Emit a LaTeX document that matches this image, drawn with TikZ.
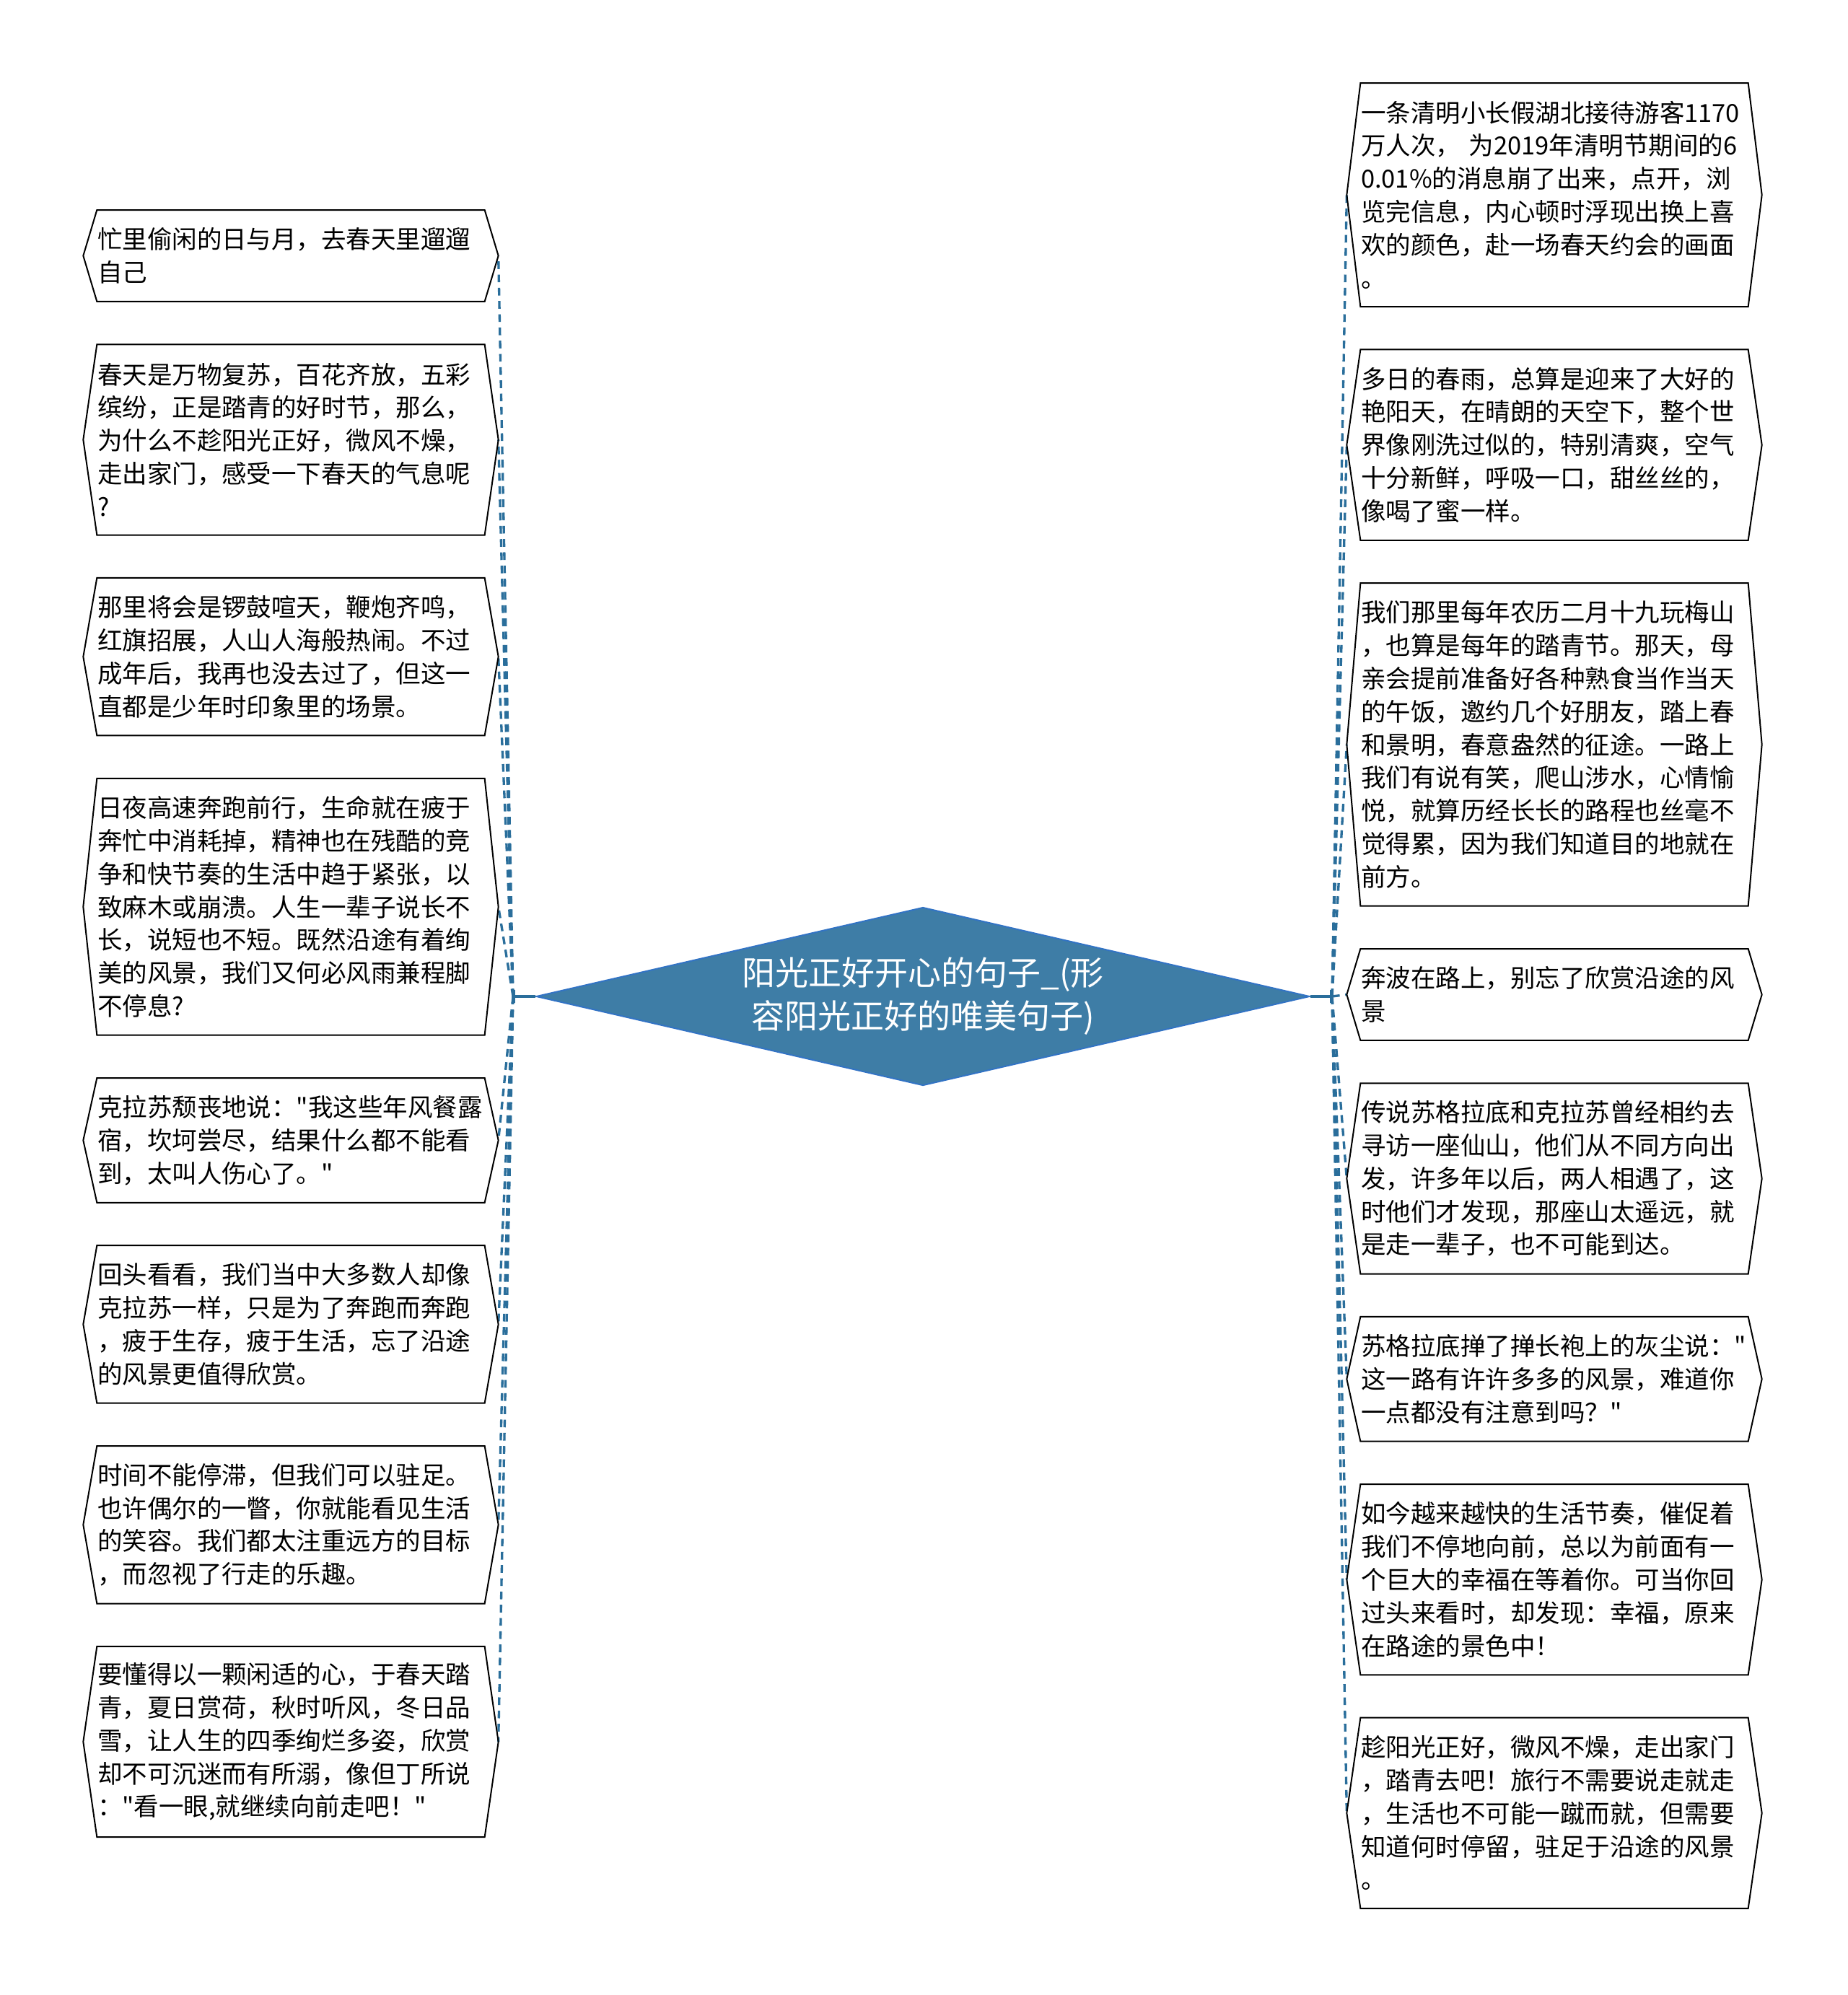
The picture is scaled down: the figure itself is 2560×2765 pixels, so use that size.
\documentclass[tikz,border=0pt]{standalone}
\usepackage{fontspec}
\newfontfamily\cjkfont{Noto Sans CJK SC}
\usepackage{tikz}
\usetikzlibrary{arrows.meta,shapes.geometric,positioning}
\definecolor{rootblue}{RGB}{62,125,166}
\definecolor{rootedge}{RGB}{50,115,196}
\definecolor{linkblue}{RGB}{42,110,155}
\tikzstyle{rootshape} = [diamond, aspect=4.3, minimum width=321.6pt, minimum height=74.1pt, inner sep=0pt, fill=rootblue, draw=rootedge, line width=0.6pt, text=white, align=center, font=\cjkfont\fontsize{13.8pt}{18pt}\selectfont]
\tikzset{leafbox/.style={text width=160.8pt, align=left, inner sep=0pt, minimum height=#1*13.74pt+10.2pt, font=\cjkfont\fontsize{10.35pt}{13.74pt}\selectfont}}
\tikzstyle{leafedge} = [draw=black, line width=0.6pt]
\tikzstyle{trunk} = [draw=linkblue, line width=1pt, -{Bar[width=5.4pt]}]
\tikzstyle{branch} = [draw=linkblue, line width=1pt, dash pattern=on 3.2pt off 2.3pt]

\begin{document}
\begin{tikzpicture}[x=0.3pt, y=-0.3pt, node distance=17.8pt]
\useasboundingbox (0,0) rectangle (2560,2765);

% Centre topic
\node[rootshape] (root) at (1279,1381) {阳光正好开心的句子\_(形\\容阳光正好的唯美句子)};

% Left column
\node[leafbox=2, anchor=north] (l1) at (403,291) {忙里偷闲的日与月，去春天里遛遛\\自己};
\node[leafbox=5, below=of l1] (l2) {春天是万物复苏，百花齐放，五彩\\缤纷，正是踏青的好时节，那么，\\为什么不趁阳光正好，微风不燥，\\走出家门，感受一下春天的气息呢\\?};
\node[leafbox=4, below=of l2] (l3) {那里将会是锣鼓喧天，鞭炮齐鸣，\\红旗招展，人山人海般热闹。不过\\成年后，我再也没去过了，但这一\\直都是少年时印象里的场景。};
\node[leafbox=7, below=of l3] (l4) {日夜高速奔跑前行，生命就在疲于\\奔忙中消耗掉，精神也在残酷的竞\\争和快节奏的生活中趋于紧张，以\\致麻木或崩溃。人生一辈子说长不\\长，说短也不短。既然沿途有着绚\\美的风景，我们又何必风雨兼程脚\\不停息?};
\node[leafbox=3, below=of l4] (l5) {克拉苏颓丧地说："我这些年风餐露\\宿，坎坷尝尽，结果什么都不能看\\到，太叫人伤心了。"};
\node[leafbox=4, below=of l5] (l6) {回头看看，我们当中大多数人却像\\克拉苏一样，只是为了奔跑而奔跑\\，疲于生存，疲于生活，忘了沿途\\的风景更值得欣赏。};
\node[leafbox=4, below=of l6] (l7) {时间不能停滞，但我们可以驻足。\\也许偶尔的一瞥，你就能看见生活\\的笑容。我们都太注重远方的目标\\，而忽视了行走的乐趣。};
\node[leafbox=5, below=of l7] (l8) {要懂得以一颗闲适的心，于春天踏\\青，夏日赏荷，秋时听风，冬日品\\雪，让人生的四季绚烂多姿，欣赏\\却不可沉迷而有所溺，像但丁所说\\："看一眼,就继续向前走吧！"};

% Right column
\node[leafbox=6, anchor=north] (r1) at (2154,115) {一条清明小长假湖北接待游客1170\\万人次， 为2019年清明节期间的6\\0.01\%的消息崩了出来，点开，浏\\览完信息，内心顿时浮现出换上喜\\欢的颜色，赴一场春天约会的画面\\。};
\node[leafbox=5, below=of r1] (r2) {多日的春雨，总算是迎来了大好的\\艳阳天，在晴朗的天空下，整个世\\界像刚洗过似的，特别清爽，空气\\十分新鲜，呼吸一口，甜丝丝的，\\像喝了蜜一样。};
\node[leafbox=9, below=of r2] (r3) {我们那里每年农历二月十九玩梅山\\，也算是每年的踏青节。那天，母\\亲会提前准备好各种熟食当作当天\\的午饭，邀约几个好朋友，踏上春\\和景明，春意盎然的征途。一路上\\我们有说有笑，爬山涉水，心情愉\\悦，就算历经长长的路程也丝毫不\\觉得累，因为我们知道目的地就在\\前方。};
\node[leafbox=2, below=of r3] (r4) {奔波在路上，别忘了欣赏沿途的风\\景};
\node[leafbox=5, below=of r4] (r5) {传说苏格拉底和克拉苏曾经相约去\\寻访一座仙山，他们从不同方向出\\发，许多年以后，两人相遇了，这\\时他们才发现，那座山太遥远，就\\是走一辈子，也不可能到达。};
\node[leafbox=3, below=of r5] (r6) {苏格拉底掸了掸长袍上的灰尘说："\\这一路有许许多多的风景，难道你\\一点都没有注意到吗？"};
\node[leafbox=5, below=of r6] (r7) {如今越来越快的生活节奏，催促着\\我们不停地向前，总以为前面有一\\个巨大的幸福在等着你。可当你回\\过头来看时，却发现：幸福，原来\\在路途的景色中！};
\node[leafbox=5, below=of r7] (r8) {趁阳光正好，微风不燥，走出家门\\，踏青去吧！旅行不需要说走就走\\，生活也不可能一蹴而就，但需要\\知道何时停留，驻足于沿途的风景\\。};

% Junctions
\coordinate[left=9.3pt of root.west] (ljoin);
\coordinate[right=9pt of root.east] (rjoin);

% Dashed branches
\foreach \i in {1,...,8} {
  \draw[branch] (ljoin) -- ([xshift=5.7pt]l\i.east);
  \draw[branch] (rjoin) -- ([xshift=-5.7pt]r\i.west);
}
\draw[trunk] (root.west) -- (ljoin);
\draw[trunk] (root.east) -- (rjoin);

% Box outlines
\foreach \s in {l,r}
  \foreach \i in {1,...,8}
    \draw[leafedge] (\s\i.north west) -- (\s\i.north east) -- ([xshift=5.7pt]\s\i.east) -- (\s\i.south east) -- (\s\i.south west) -- ([xshift=-5.7pt]\s\i.west) -- cycle;
\end{tikzpicture}
\end{document}
